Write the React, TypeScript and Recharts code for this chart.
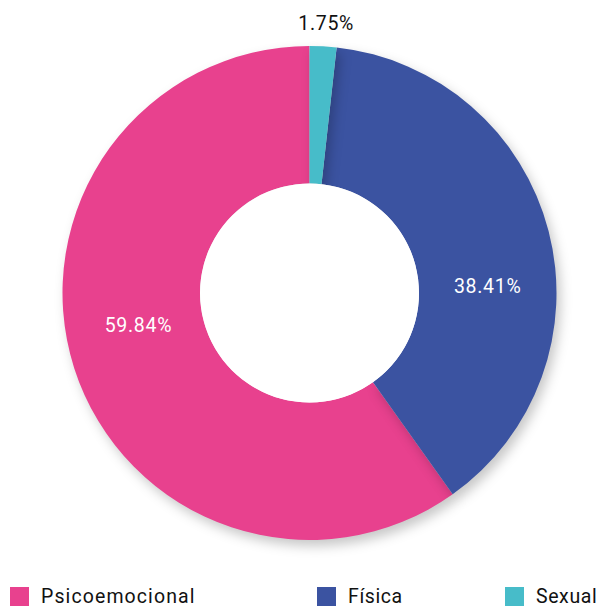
import { PieChart, Pie, Cell } from "recharts";

const categories = ["Psicoemocional", "Física", "Sexual"];
const shares = [59.84, 38.41, 1.75];
const colors = ["#E8418E", "#3B53A1", "#47BCC9"];
const holeValue = [1];

const data = categories.map((name, i) => ({ name, value: shares[i] }));

const RADIAN = Math.PI / 180;
const FONT = "Roboto, 'Noto Sans', sans-serif";

// the original puts the labels a little before the slice middle
const LABEL_SHIFT = [-6.8, -12.6, -0.4];

function renderLabel(props: any) {
  const { cx, cy, midAngle, innerRadius, outerRadius, index, value } = props;
  const inside = value > 5;
  const r = inside ? (innerRadius + outerRadius) / 2 - 4 + index * 4 : outerRadius + 23;
  const a = (midAngle + LABEL_SHIFT[index]) * RADIAN;
  const x = cx + r * Math.cos(a);
  const y = cy - r * Math.sin(a);
  return (
    <text
      x={x}
      y={y}
      fill={inside ? "#ffffff" : "#111111"}
      textAnchor="middle"
      dominantBaseline="central"
      fontSize={19.5}
      letterSpacing={0.7}
      fontFamily={FONT}
    >
      {`${value.toFixed(2)}%`}
    </text>
  );
}

const legendLeft = [10, 317, 505];

export default function App() {
  return (
    <div style={{ position: "relative", width: 604, height: 607, fontFamily: FONT }}>
      <style>{`
        body { margin: 0; }
        .main-pie .recharts-pie-sector { filter: drop-shadow(4px 6px 6px rgba(0,0,0,0.22)); }
      `}</style>
      <PieChart width={604} height={580} margin={{ top: 0, right: 0, bottom: 0, left: 0 }}>
        <Pie
          className="main-pie"
          data={data}
          dataKey="value"
          cx={309.5}
          cy={293}
          innerRadius={109.5}
          outerRadius={247}
          startAngle={90}
          endAngle={450}
          stroke="none"
          label={renderLabel}
          labelLine={false}
          isAnimationActive={false}
        >
          {data.map((_, i) => (
            <Cell key={i} fill={colors[i]} />
          ))}
        </Pie>
        <Pie
          data={holeValue.map((v) => ({ v }))}
          dataKey="v"
          cx={309.5}
          cy={293}
          innerRadius={0}
          outerRadius={109.5}
          fill="#ffffff"
          stroke="none"
          isAnimationActive={false}
        />
      </PieChart>
      {categories.map((name, i) => (
        <div
          key={name}
          style={{
            position: "absolute",
            left: legendLeft[i],
            top: 587,
            display: "flex",
            alignItems: "center",
            height: 19,
            lineHeight: "19px",
            fontSize: 19.5,
            letterSpacing: i === 0 ? 1.1 : 0.6,
            color: "#111111",
          }}
        >
          <span style={{ width: 19, height: 19, background: colors[i], marginRight: 12 }} />
          <span>{name}</span>
        </div>
      ))}
    </div>
  );
}
